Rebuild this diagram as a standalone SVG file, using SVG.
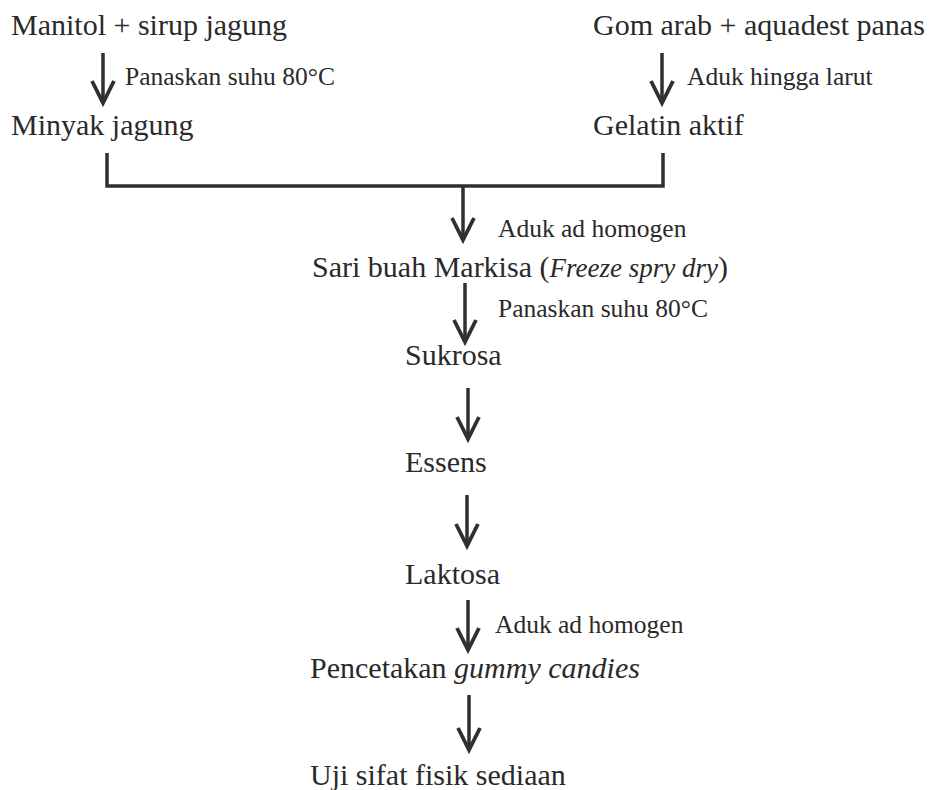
<svg xmlns="http://www.w3.org/2000/svg" width="940" height="790" viewBox="0 0 940 790">
  <style>
    .t { font-family: "Liberation Serif", "Times New Roman", serif; font-size: 30px; fill: #2a2a2a; }
    .s { font-family: "Liberation Serif", "Times New Roman", serif; font-size: 25.5px; fill: #2a2a2a; }
    .i { font-style: italic; }
    .ln { fill: none; stroke: #303030; stroke-width: 3.5; }
    .ar { fill: none; stroke: #303030; stroke-width: 3.5; marker-end: url(#ah); }
  </style>
  <defs>
    <marker id="ah" viewBox="-26 -14 32 28" refX="0" refY="0" markerWidth="32" markerHeight="28" markerUnits="userSpaceOnUse" orient="auto">
      <path d="M-22,-11 L0,0 L-22,11" fill="none" stroke="#303030" stroke-width="3.8"/>
    </marker>
  </defs>
  <rect width="940" height="790" fill="#ffffff"/>

  <g id="connectors">
    <line class="ar" x1="103" y1="53" x2="103" y2="103"/>
    <line class="ar" x1="662" y1="53" x2="662" y2="103"/>
    <path class="ln" d="M107,153 V186 H663 V153"/>
    <line class="ar" x1="463" y1="186" x2="463" y2="240"/>
    <line class="ar" x1="465" y1="283" x2="465" y2="342"/>
    <line class="ar" x1="468" y1="388" x2="468" y2="439"/>
    <line class="ar" x1="467" y1="495" x2="467" y2="546"/>
    <line class="ar" x1="468" y1="600" x2="468" y2="650"/>
    <line class="ar" x1="469" y1="695" x2="469" y2="750"/>
  </g>

  <g id="labels">
    <text class="s" x="125" y="85">Panaskan suhu 80°C</text>
    <text class="s" x="687" y="85">Aduk hingga larut</text>
    <text class="s" x="498" y="237">Aduk ad homogen</text>
    <text class="s" x="498" y="317">Panaskan suhu 80°C</text>
    <text class="s" x="495" y="633">Aduk ad homogen</text>
  </g>

  <g id="n-manitol"><text class="t" x="11" y="35">Manitol + sirup jagung</text></g>
  <g id="n-minyak"><text class="t" x="11" y="135">Minyak jagung</text></g>
  <g id="n-gom"><text class="t" x="593" y="35">Gom arab + aquadest panas</text></g>
  <g id="n-gelatin"><text class="t" x="593" y="135">Gelatin aktif</text></g>
  <g id="n-sari"><text class="t" x="312" y="277">Sari buah Markisa (<tspan class="i" font-size="27">Freeze spry dry</tspan>)</text></g>
  <g id="n-sukrosa"><text class="t" x="405" y="365">Sukrosa</text></g>
  <g id="n-essens"><text class="t" x="405" y="472">Essens</text></g>
  <g id="n-laktosa"><text class="t" x="405" y="584">Laktosa</text></g>
  <g id="n-pencetakan"><text class="t" x="310" y="678">Pencetakan <tspan class="i">gummy candies</tspan></text></g>
  <g id="n-uji"><text class="t" x="310" y="785">Uji sifat fisik sediaan</text></g>
</svg>
